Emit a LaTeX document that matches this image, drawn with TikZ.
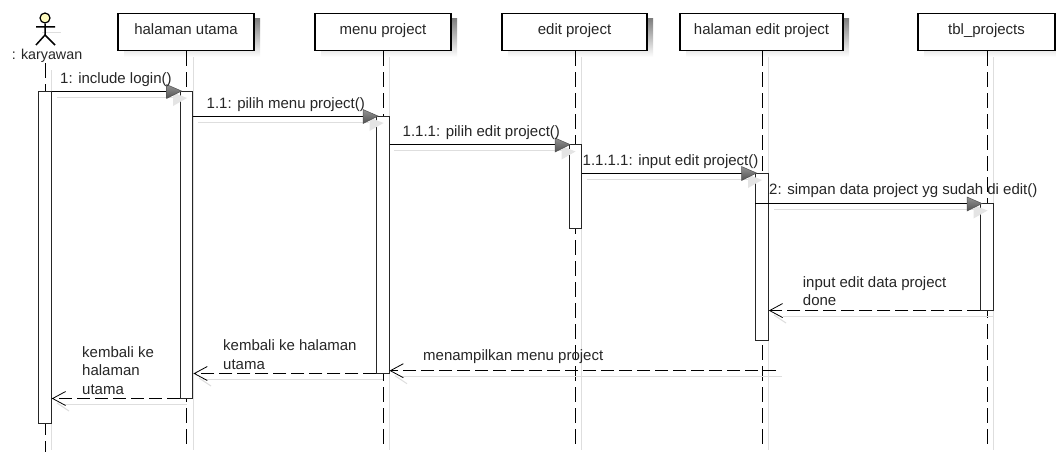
\documentclass[tikz,border=0pt]{standalone}
\usepackage{fontspec}
\setmainfont{Liberation Sans}
\usetikzlibrary{arrows.meta,shadings}
\definecolor{shade}{gray}{0.87}
\definecolor{ink}{gray}{0.15}
\definecolor{tipdark}{gray}{0.32}
\definecolor{tiplight}{gray}{0.58}
\tikzset{
  x=1pt,y=-1pt,
  lifebox/.style={draw=black,line width=1.5pt,fill=white,minimum height=37pt,inner sep=0pt,font=\fontsize{15}{18}\selectfont,text=ink},
  lifeline/.style={draw=black,line width=1pt,dash pattern=on 15pt off 6pt},
  shadowline/.style={draw=shade,line width=1pt},
  bar/.style={draw=ink,line width=1pt,fill=white,inner sep=0pt,minimum width=12.5pt},
  msg/.style={draw=black,line width=1pt},
  ret/.style={draw=black,line width=1pt,dash pattern=on 13pt off 5pt,-{Straight Barb[length=13pt,width=14pt,line width=0.8pt]}},
  lbl/.style={font=\fontsize{15}{18.3}\selectfont,text=ink,anchor=west,inner sep=0pt,align=left},
  tip/.style={draw=tipdark,line width=0.5pt,top color=tiplight,bottom color=tipdark},
}
\newcommand{\syncarrow}[2]{%
  \fill[shade!80!white] (#1-8,#2+1.5) -- (#1+6,#2+7) -- (#1-8,#2+15) -- cycle;
  \path[tip] (#1-14.5,#2-6.5) -- (#1+.5,#2) -- (#1-14.5,#2+7.5) -- cycle;
}
\newcommand{\barbshadow}[2]{%
  \draw[shadowline] (#1+6,#2+5) -- (#1+18,#2+13);
}
\begin{document}
\begin{tikzpicture}
\useasboundingbox (0,0) rectangle (1056,452);
\fill[white] (0,0) rectangle (1056,452);
% shadows of lifelines
\foreach \xx/\yy in {51.5/70,193/50,389.5/50,581.5/50,768.5/50,993.5/50}
  \draw[shadowline] (\xx,\yy) -- (\xx,450);
% shadows of boxes
\fill[shade] (124,19) rectangle (260,57);
\fill[shade] (321,19) rectangle (457,57);
\fill[shade] (508,19) rectangle (653,57);
\fill[shade] (686,19) rectangle (849,57);
\fill[shade] (924,19) rectangle (1056,57);
% lifeline heads
\node[lifebox,minimum width=136pt,text depth=0pt] (h1) at (186,32) {\raisebox{5pt}{halaman utama}};
\node[lifebox,minimum width=136pt] (h2) at (383,32) {\raisebox{5pt}{menu project}};
\node[lifebox,minimum width=145pt] (h3) at (574.5,32) {\raisebox{6.5pt}{edit project}};
\node[lifebox,minimum width=163pt] (h4) at (761.5,32) {\raisebox{5pt}{halaman edit project}};
\node[lifebox,minimum width=137pt] (h5) at (986.5,32) {\raisebox{5pt}{tbl\_projects}};
% actor
\draw[draw=shade,line width=1pt] (42,33) -- (61,33);
\node[circle,draw=black,line width=1.2pt,fill=yellow!25,minimum size=10pt,inner sep=0pt] (head) at (45,18) {};
\coordinate (waist) at (45,35);
\coordinate (armL) at (36,27);
\coordinate (armR) at (55,27);
\coordinate (legL) at (36,45);
\coordinate (legR) at (55,45);
\draw[black,line width=1.5pt] (head) -- (waist) (armL) -- (armR) (legL) -- (waist) -- (legR);
\node[font=\fontsize{14.3}{18}\selectfont,text=ink,inner sep=0pt] (actor) at (47,55.5) {: karyawan};
% lifelines
\coordinate (l0a) at (45,63); \coordinate (l0b) at (45,452);
\coordinate (l1b) at (186.7,450); \coordinate (l2b) at (383,450);
\coordinate (l3b) at (575,450); \coordinate (l4b) at (762,450); \coordinate (l5b) at (987,450);
\draw[lifeline] (l0a) -- (l0b);
\draw[lifeline] (h1.south -| l1b) -- (l1b);
\draw[lifeline] (h2.south) -- (l2b);
\draw[lifeline] (h3.south -| l3b) -- (l3b);
\draw[lifeline] (h4.south -| l4b) -- (l4b);
\draw[lifeline] (h5.south -| l5b) -- (l5b);
% activation bars
\node[bar,minimum height=332pt] (b0) at (45,257) {};
\node[bar,minimum height=307pt] (b1) at (186.7,244.5) {};
\node[bar,minimum height=257pt] (b2) at (383,244.5) {};
\node[bar,minimum height=84pt] (b3) at (575.3,186.5) {};
\node[bar,minimum height=167pt] (b4) at (762,256.5) {};
\node[bar,minimum height=106.5pt] (b5) at (987,256.8) {};
% message shadows
\draw[shadowline] (57,97) -- (173,97);
\draw[shadowline] (198,122) -- (369,122);
\draw[shadowline] (394,150.5) -- (562,150.5);
\draw[shadowline] (587,179) -- (749,179);
\draw[shadowline] (774,209.5) -- (974,209.5);
\draw[shadowline] (783,316) -- (993,316);
\draw[shadowline] (400,376) -- (782,376);
\draw[shadowline] (203,379.5) -- (383,379.5);
\draw[shadowline] (63,404) -- (187,404);
% messages
\draw[msg] (b0.east |- 0,91) coordinate (m1a) -- (b1.west |- 0,91) coordinate (m1b);
\draw[msg] (b1.east |- 0,116) coordinate (m2a) -- (b2.west |- 0,116) coordinate (m2b);
\draw[msg] (b2.east |- 0,144.5) coordinate (m3a) -- (b3.west |- 0,144.5) coordinate (m3b);
\draw[msg] (b3.east |- 0,173) coordinate (m4a) -- (b4.west |- 0,173) coordinate (m4b);
\draw[msg] (b4.west |- 0,203.5) coordinate (m5a) -- (b5.west |- 0,203.5) coordinate (m5b);
\syncarrow{181}{91}
\syncarrow{377.5}{116}
\syncarrow{569.5}{144.5}
\syncarrow{756}{173}
\syncarrow{981.5}{203.5}
% returns
\barbshadow{768}{310}
\barbshadow{389}{370.7}
\barbshadow{193}{373}
\barbshadow{51}{398}
\draw[ret] (b5.south west) -- (b4.east |- b5.south);
\coordinate (r2a) at (776,370.7);
\draw[ret] (r2a) -- (389.5,370.7);
\draw[ret] (b2.south west) -- (b1.east |- b2.south);
\draw[ret] (b1.south west) -- (b0.east |- b1.south);
% labels
\node[lbl] (t1) at (60,80) {1: include login()};
\node[lbl] (t2) at (206.5,105) {1.1: pilih menu project()};
\node[lbl] (t3) at (402.5,133) {1.1.1: pilih edit project()};
\node[lbl] (t4) at (582.5,161.5) {1.1.1.1: input edit project()};
\node[lbl] (t5) at (769,190.5) {2: simpan data project yg sudah di edit()};
\node[lbl] (t6) at (802.7,291) {input edit data project\\done};
\node[lbl] (t7) at (423,356.5) {menampilkan menu project};
\node[lbl] (t8) at (223,354.5) {kembali ke halaman\\utama};
\node[lbl] (t9) at (82,370.5) {kembali ke\\halaman\\utama};
\end{tikzpicture}
\end{document}
